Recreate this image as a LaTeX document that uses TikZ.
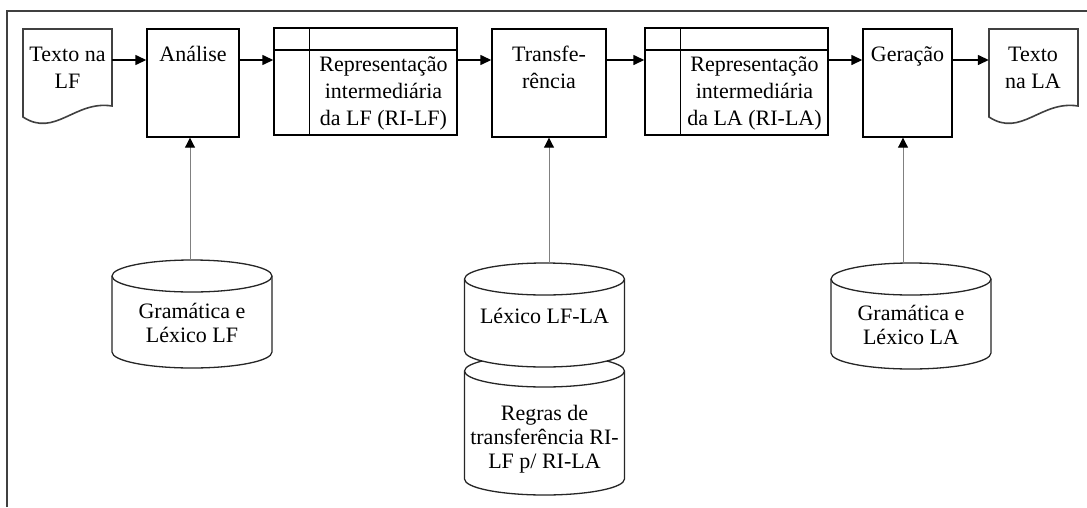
\documentclass[tikz,border=0pt]{standalone}
\usepackage{fontspec}
\setmainfont{Liberation Serif}
\usetikzlibrary{arrows.meta}

% Cylinder (data store) outline: centre x, y of top ellipse, y of bottom ellipse
\newcommand\drumoutline[3]{%
  \filldraw[drum] ({#1-80},{#2}) -- ({#1-80},{#3})
    arc[start angle=180, end angle=360, x radius=80pt, y radius=16pt]
    -- ({#1+80},{#2})
    arc[start angle=0, end angle=180, x radius=80pt, y radius=16pt] -- cycle;
  \draw[drum] ({#1-80},{#2})
    arc[start angle=180, end angle=360, x radius=80pt, y radius=16pt];
}
% Document sheet with a wavy lower edge, left edge at x = #1
\newcommand\paperoutline[1]{%
  \filldraw[paper, shift={(#1,0)}] (0,29) -- (89,29) -- (89,106)
    .. controls (52,100) and (32,138) .. (0,117) -- cycle;
}

\tikzset{
  stage/.style={draw=black, line width=1.4pt, fill=white, inner sep=0pt, minimum height=108pt},
  ribox/.style={draw=black, line width=1.4pt, fill=white, inner sep=0pt,
    minimum width=183pt, minimum height=107pt},
  area/.style={inner sep=0pt, minimum width=89pt, minimum height=88pt},
  txt/.style={font=\fontsize{22}{27}\selectfont, align=center, inner sep=0pt, anchor=north},
  dbtxt/.style={font=\fontsize{22}{24}\selectfont, align=center, inner sep=0pt, anchor=north},
  flow/.style={draw=black, line width=1.4pt, -{Triangle[length=11pt,width=10pt]}},
  feed/.style={draw=black!50, line width=1pt, -{Triangle[length=10pt,width=10pt,color=black]}},
  drum/.style={draw=black!85, line width=1.3pt, fill=white},
  paper/.style={draw=black!75, line width=1.6pt, fill=white},
  frame/.style={draw=black!75, line width=2pt},
  divider/.style={draw=black, line width=1.4pt},
}

\begin{document}
\begin{tikzpicture}[x=1pt, y=-1pt]
\useasboundingbox (0,0) rectangle (1087,507);
\fill[white] (0,0) rectangle (1087,507);

% frame
\draw[frame] (7,507) -- (7,11) -- (1087,11);

\coordinate (row) at (0,60);

% source and target documents
\paperoutline{23}
\node[area] (doclf) at (67.5,73) {};
\node[txt] (doclf-t) at (67.5,42) {\strut Texto na\\LF};

\paperoutline{989}
\node[area] (docla) at (1033.5,73) {};
\node[txt] (docla-t) at (1033,42) {\strut Texto\\na LA};

% processing stages
\node[stage, minimum width=92pt] (analise) at (193,83) {};
\node[txt] (analise-t) at (193,42) {\strut Análise};

\node[stage, minimum width=114pt] (transf) at (549,83) {};
\node[txt] (transf-t) at (549,42) {\strut Transfe-\\rência};

\node[stage, minimum width=89pt] (geracao) at (907.5,83) {};
\node[txt] (geracao-t) at (907.5,42) {\strut Geração};

% intermediate representations
\node[ribox] (rilf) at (365.5,81.5) {};
\draw[divider] (rilf.west |- 0,50) -- (rilf.east |- 0,50);
\draw[divider] ([xshift=36pt]rilf.north west) -- ([xshift=36pt]rilf.south west);
\node[txt] (rilf-t) at (383.5,52) {\strut Representação\\intermediária\\da LF (RI-LF)};

\node[ribox] (rila) at (736.5,81.5) {};
\draw[divider] (rila.west |- 0,50) -- (rila.east |- 0,50);
\draw[divider] ([xshift=36pt]rila.north west) -- ([xshift=36pt]rila.south west);
\node[txt] (rila-t) at (754.5,52) {\strut Representação\\intermediária\\da LA (RI-LA)};

% main pipeline
\draw[flow] (doclf.east |- row) -- (analise.west |- row);
\draw[flow] (analise.east |- row) -- (rilf.west |- row);
\draw[flow] (rilf.east |- row) -- (transf.west |- row);
\draw[flow] (transf.east |- row) -- (rila.west |- row);
\draw[flow] (rila.east |- row) -- (geracao.west |- row);
\draw[flow] (geracao.east |- row) -- (docla.west |- row);

% knowledge bases
\drumoutline{192}{276}{352}
\node[dbtxt] (gramlf) at (192,301) {\strut Gramática e\\Léxico LF};

\drumoutline{544.5}{371}{479}
\node[dbtxt] (regras) at (544.5,403) {\strut Regras de\\transferência RI-\\LF p/ RI-LA};

\drumoutline{544.5}{279}{351}
\node[dbtxt] (lexico) at (544.5,306) {\strut Léxico LF-LA};

\drumoutline{911}{279}{353}
\node[dbtxt] (gramla) at (911,303) {\strut Gramática e\\Léxico LA};

% knowledge feeding the stages
\coordinate (gramlf-top) at (190,260);
\coordinate (lexico-top) at (549,263);
\coordinate (gramla-top) at (903,263);
\draw[feed] (gramlf-top) -- (gramlf-top |- analise.south);
\draw[feed] (lexico-top) -- (lexico-top |- transf.south);
\draw[feed] (gramla-top) -- (gramla-top |- geracao.south);
\end{tikzpicture}
\end{document}
